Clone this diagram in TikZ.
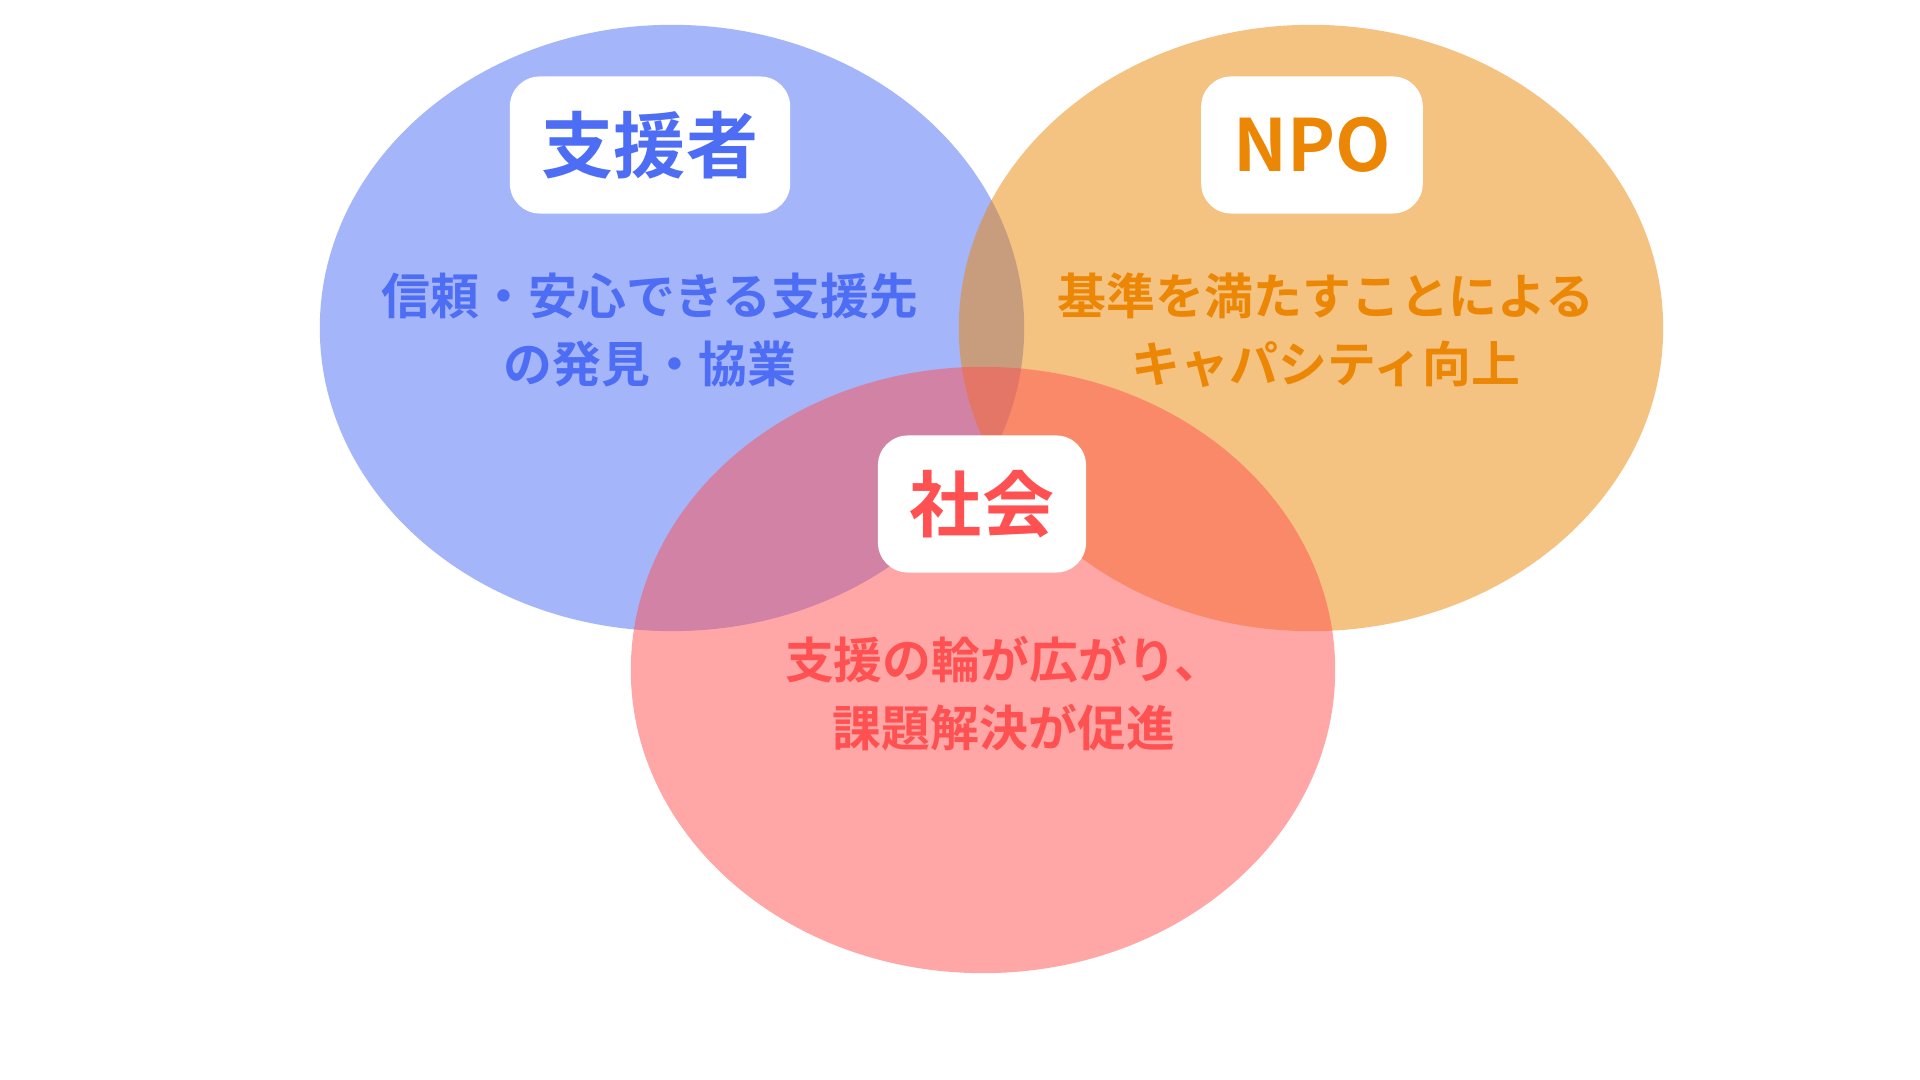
\documentclass[tikz,border=0pt]{standalone}
\usepackage{fontspec}
\setmainfont{Noto Sans CJK JP}[BoldFont={* Bold}]
\usetikzlibrary{shapes.geometric}
\definecolor{cblue}{RGB}{77,109,245}
\definecolor{corange}{RGB}{235,135,5}
\definecolor{cred}{RGB}{255,81,81}
\tikzset{
  venn/.style={ellipse, inner sep=0pt, minimum width=7.04cm, minimum height=6.06cm, fill opacity=0.5, draw=none},
  labelbox/.style={fill=white, rounded corners=0.3cm, inner xsep=0.32cm, inner ysep=0pt, minimum height=1.37cm, font=\fontsize{20.5}{24}\selectfont\bfseries},
  bodytext/.style={align=center, font=\fontsize{13.9}{19.3}\selectfont\bfseries}
}
\begin{document}
\begin{tikzpicture}[x=0.01cm, y=-0.01cm]
\fill[white] (0,0) rectangle (1920,1080);
\useasboundingbox (0,0) rectangle (1920,1080);
\node[venn, fill=cblue] (vblue) at (672,328) {};
\node[venn, fill=corange] (vorange) at (1311,328) {};
\node[venn, fill=cred] (vred) at (983,670) {};
\node[labelbox, text=cblue] (lblue) at (650,145) {支援者};
\node[labelbox, text=corange] (lorange) at (1312,145) {NPO};
\node[labelbox, text=cred] (lred) at (982,504) {社会};
\node[bodytext, text=cblue] (tblue) at (650,330) {信頼・安心できる支援先\\の発見・協業};
\node[bodytext, text=corange] (torange) at (1326,330) {基準を満たすことによる\\キャパシティ向上};
\node[bodytext, text=cred] (tred) at (1004,694) {支援の輪が広がり、\\課題解決が促進};
\end{tikzpicture}
\end{document}
